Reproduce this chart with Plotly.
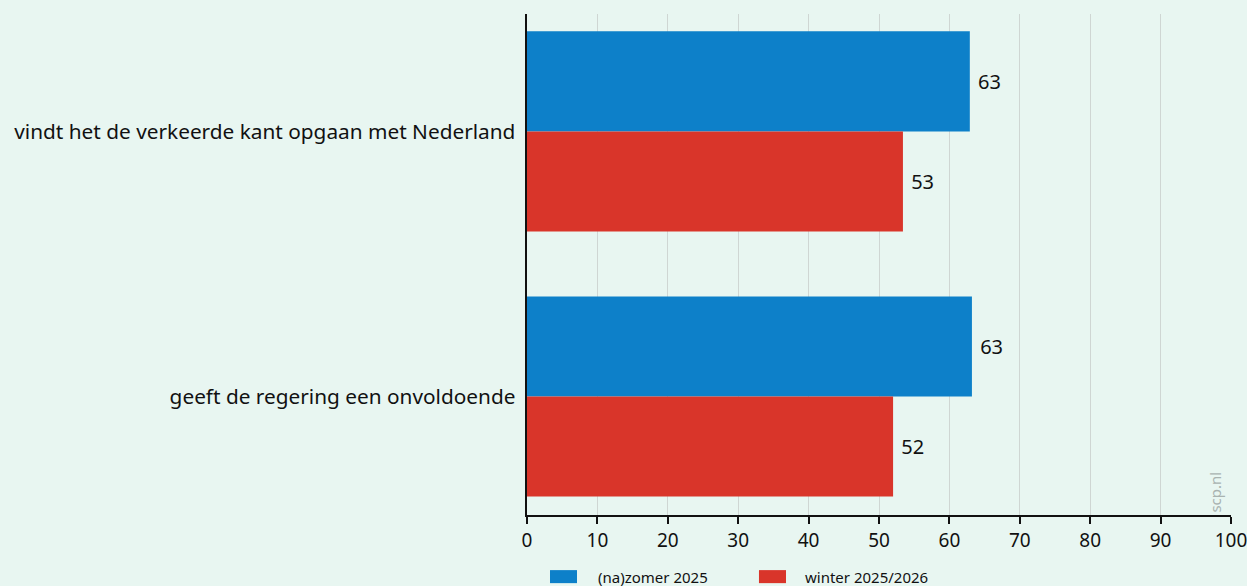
import plotly.graph_objects as go

categories = ["vindt het de verkeerde kant opgaan met Nederland",
              "geeft de regering een onvoldoende"]
series_names = ["(na)zomer 2025", "winter 2025/2026"]
zomer_2025 = [62.9, 63.2]
winter_2025_2026 = [53.4, 52.0]
x_ticks = [0, 10, 20, 30, 40, 50, 60, 70, 80, 90, 100]

BG = "#e8f6f1"
BLUE = "#0d80c9"
RED = "#d9352a"
FONT = "Noto Sans"

fig = go.Figure()
for name, vals, col in [(series_names[0], zomer_2025, BLUE),
                        (series_names[1], winter_2025_2026, RED)]:
    fig.add_trace(go.Bar(
        y=categories, x=vals, orientation="h", name=name,
        marker=dict(color=col, line=dict(width=0)),
        texttemplate="\u00a0%{x:.0f}", textposition="outside",
        outsidetextfont=dict(family=FONT, size=20, color="#111111"),
        cliponaxis=False, showlegend=False, hoverinfo="skip",
    ))

fig.update_layout(
    width=1247, height=586,
    paper_bgcolor=BG, plot_bgcolor=BG,
    margin=dict(l=527, r=16, t=14, b=71, autoexpand=False),
    barmode="group", bargap=0.245, bargroupgap=0,
    font=dict(family=FONT, size=19, color="#111111"),
    xaxis=dict(range=[0, 100], tickvals=x_ticks, showgrid=True,
               gridcolor="#cfd6d3", gridwidth=1, zeroline=False,
               showline=True, linecolor="#111111", linewidth=2,
               ticks="outside", ticklen=7, tickcolor="#111111", tickwidth=2,
               ticklabeloverflow="allow", automargin=False,
               tickfont=dict(family=FONT, size=19, color="#111111")),
    yaxis=dict(type="category", range=[1.447, -0.443], showgrid=False,
               showline=True, linecolor="#111111", linewidth=2,
               ticks="", ticksuffix=" ", automargin=False,
               tickfont=dict(family=FONT, size=20.8, color="#111111")),
)

# legend drawn below the plot
leg_y0, leg_y1 = -0.110, -0.136
for (x0, x1, tx), name, col in [((0.0327, 0.071, 0.098), series_names[0], BLUE),
                               ((0.3295, 0.3679, 0.392), series_names[1], RED)]:
    fig.add_shape(type="rect", xref="paper", yref="paper",
                  x0=x0, x1=x1, y0=leg_y0, y1=leg_y1,
                  fillcolor=col, line=dict(width=0))
    fig.add_annotation(xref="paper", yref="paper", x=tx, y=(leg_y0 + leg_y1) / 2,
                       text=name, showarrow=False, xanchor="left", yanchor="middle",
                       font=dict(family=FONT, size=15, color="#111111"))

fig.add_annotation(xref="paper", yref="paper", x=0.976, y=0.0,
                   text="scp.nl", textangle=-90, showarrow=False,
                   xanchor="center", yanchor="bottom",
                   font=dict(family=FONT, size=15, color="#a9b3b0"))

fig.write_html("out.html", config={"displayModeBar": False},
               post_script="document.body.style.margin='0';document.body.style.background='" + BG + "';")
